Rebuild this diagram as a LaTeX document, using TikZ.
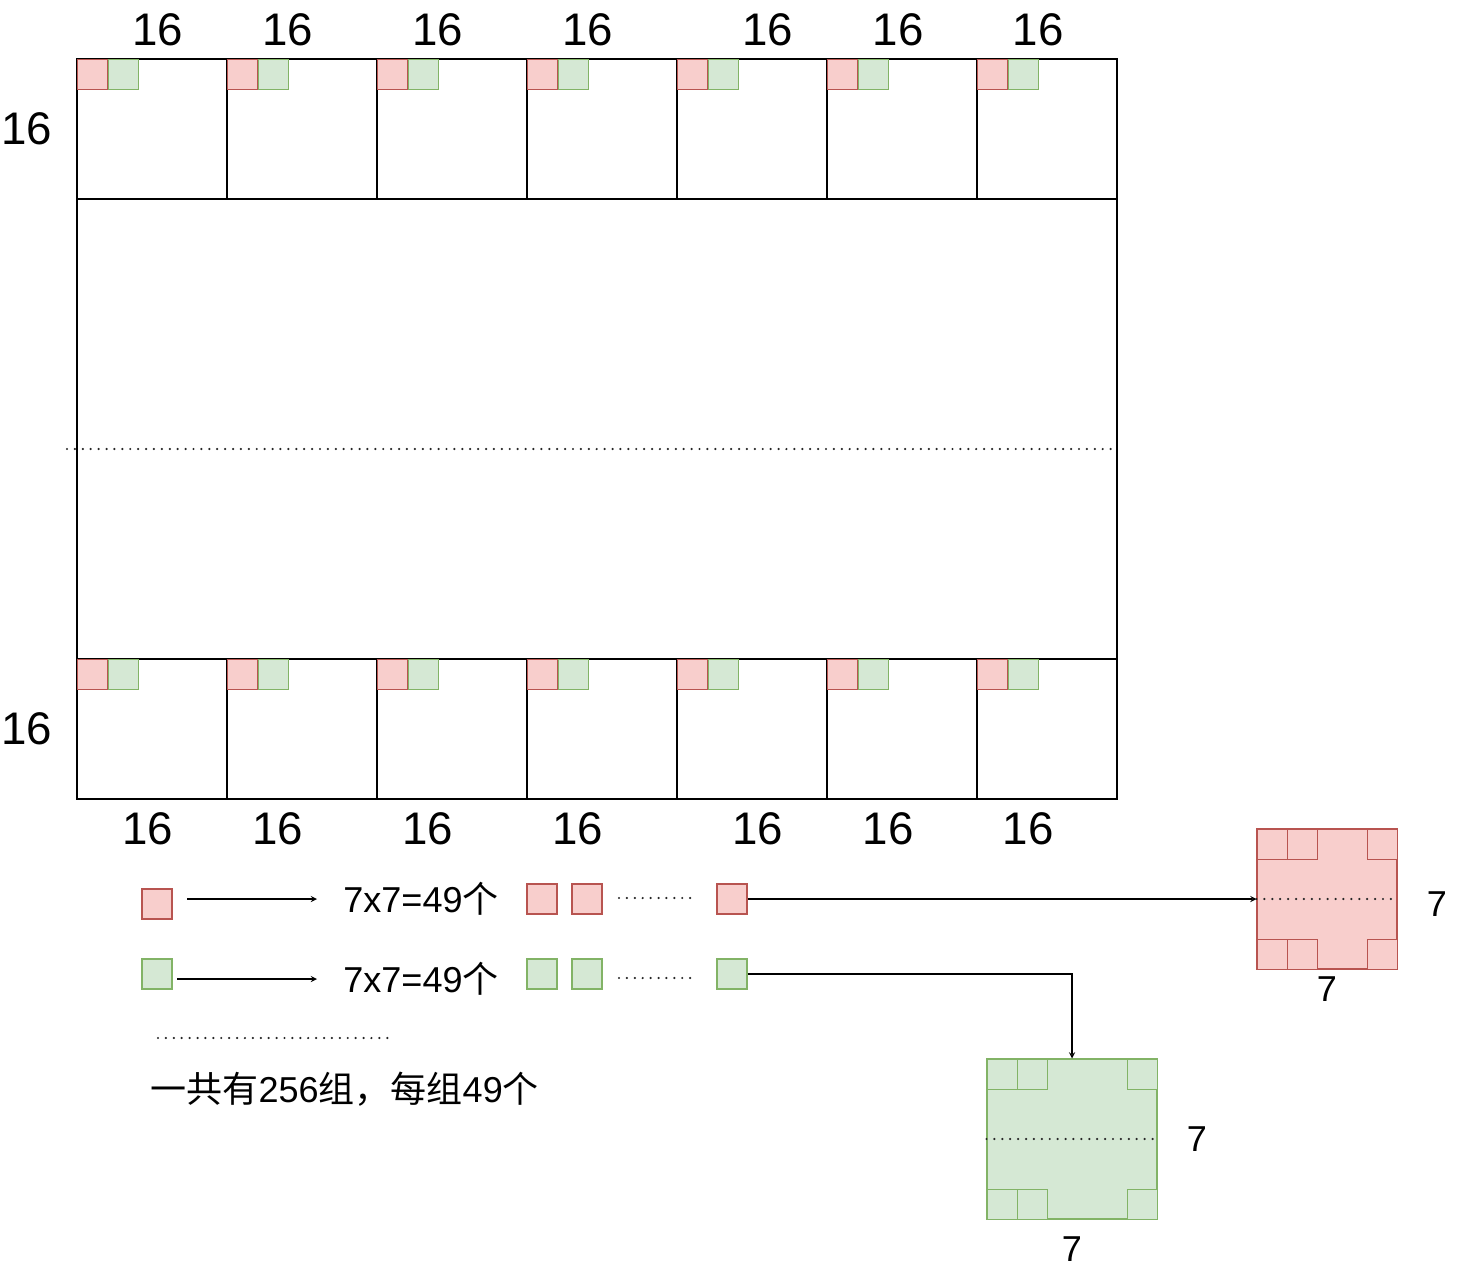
\documentclass[tikz,border=0pt]{standalone}
\usepackage{fontspec}
\setmainfont{Liberation Sans}
\newfontfamily\cjk{Noto Sans CJK SC}
\usepackage{tikz}
\usetikzlibrary{positioning}
\definecolor{cRed}{HTML}{F8CECC}
\definecolor{cRedLine}{HTML}{B85450}
\definecolor{cGreen}{HTML}{D5E8D4}
\definecolor{cGreenLine}{HTML}{82B366}

\begin{document}
\begin{tikzpicture}[x=0.02cm,y=-0.02cm,line width=0.6pt,>=stealth,
  redsq/.style={draw=cRedLine,fill=cRed,minimum size=0.6cm,inner sep=0pt},
  greensq/.style={draw=cGreenLine,fill=cGreen,minimum size=0.6cm,inner sep=0pt},
  bignum/.style={font=\fontsize{26}{30}\selectfont},
  midnum/.style={font=\fontsize{20.5}{24}\selectfont},
  dots/.style={line width=1.4pt,line cap=round,dash pattern=on 0pt off 4.5pt,black!85}]
\useasboundingbox (0,0) rectangle (1458,1271);
\draw (77,59) rectangle (1117,799);
\draw (77,199)--(1117,199) (77,659)--(1117,659);
\foreach \x in {227,377,527,677,827,977} \draw (\x,59)--(\x,199) (\x,659)--(\x,799);
\foreach \x [count=\i] in {77,227,377,527,677,827,977} {
  \node[redsq,anchor=north west] (rt\i) at (\x,59){};
  \node[greensq,right=0pt of rt\i] (gt\i){};
  \node[redsq,anchor=north west] (rb\i) at (\x,659){};
  \node[greensq,right=0pt of rb\i] (gb\i){};
}
\draw[dots] (67,449)--(1117,449);
\foreach \x [count=\i] in {158,288,438,588,768,898,1038} \node[bignum] (nt\i) at (\x,30){16};
\foreach \x [count=\i] in {148,278,428,578,758,888,1028} \node[bignum] (nb\i) at (\x,829){16};
\node[bignum] (nl1) at (27,129){16};
\node[bignum] (nl2) at (27,729){16};

\node[redsq] (rkey) at (157,904){};
\coordinate (ra1) at (187,899); \coordinate (ra2) at (317,899);
\draw[->] (ra1)--(ra2);
\node[midnum] (rtxt) at (421,899){7x7=49{\cjk 个}};
\node[redsq] (r1) at (542,899){};
\node[redsq] (r2) at (587,899){};
\draw[dots] (619,898)--(692,898);
\node[redsq] (r3) at (732,899){};

\node[greensq] (gkey) at (157,974){};
\coordinate (ga1) at (177,979); \coordinate (ga2) at (317,979);
\draw[->] (ga1)--(ga2);
\node[midnum] (gtxt) at (421,979){7x7=49{\cjk 个}};
\node[greensq] (g1) at (542,974){};
\node[greensq] (g2) at (587,974){};
\draw[dots] (619,978)--(692,978);
\node[greensq] (g3) at (732,974){};

\draw[dots] (158,1038)--(392,1038);
\node[midnum,anchor=west,inner sep=0pt] (sum) at (150,1089){{\cjk 一共有}256{\cjk 组，每组}49{\cjk 个}};

\node[redsq,minimum size=2.8cm] (rbig) at (1327,899){};
\node[redsq,anchor=north west] at (1257,829){};
\node[redsq,anchor=north west] at (1287,829){};
\node[redsq,anchor=north west] at (1367,829){};
\node[redsq,anchor=north west] at (1257,939){};
\node[redsq,anchor=north west] at (1287,939){};
\node[redsq,anchor=north west] at (1367,939){};
\draw[dots] (rbig.west)--(rbig.east);
\node[midnum] (r7a) at (1437,904){7};
\node[midnum] (r7b) at (1327,989){7};

\node[greensq,minimum width=3.4cm,minimum height=3.2cm] (gbig) at (1072,1139){};
\node[greensq,anchor=north west] at (987,1059){};
\node[greensq,anchor=north west] at (1017,1059){};
\node[greensq,anchor=north west] at (1127,1059){};
\node[greensq,anchor=north west] at (987,1189){};
\node[greensq,anchor=north west] at (1017,1189){};
\node[greensq,anchor=north west] at (1127,1189){};
\draw[dots] (gbig.west)--(gbig.east);
\node[midnum] (g7a) at (1197,1139){7};
\node[midnum] (g7b) at (1072,1249){7};

\draw[->] (r3.east)--(rbig.west);
\draw[->] (g3.east)-|(gbig.north);
\end{tikzpicture}
\end{document}
